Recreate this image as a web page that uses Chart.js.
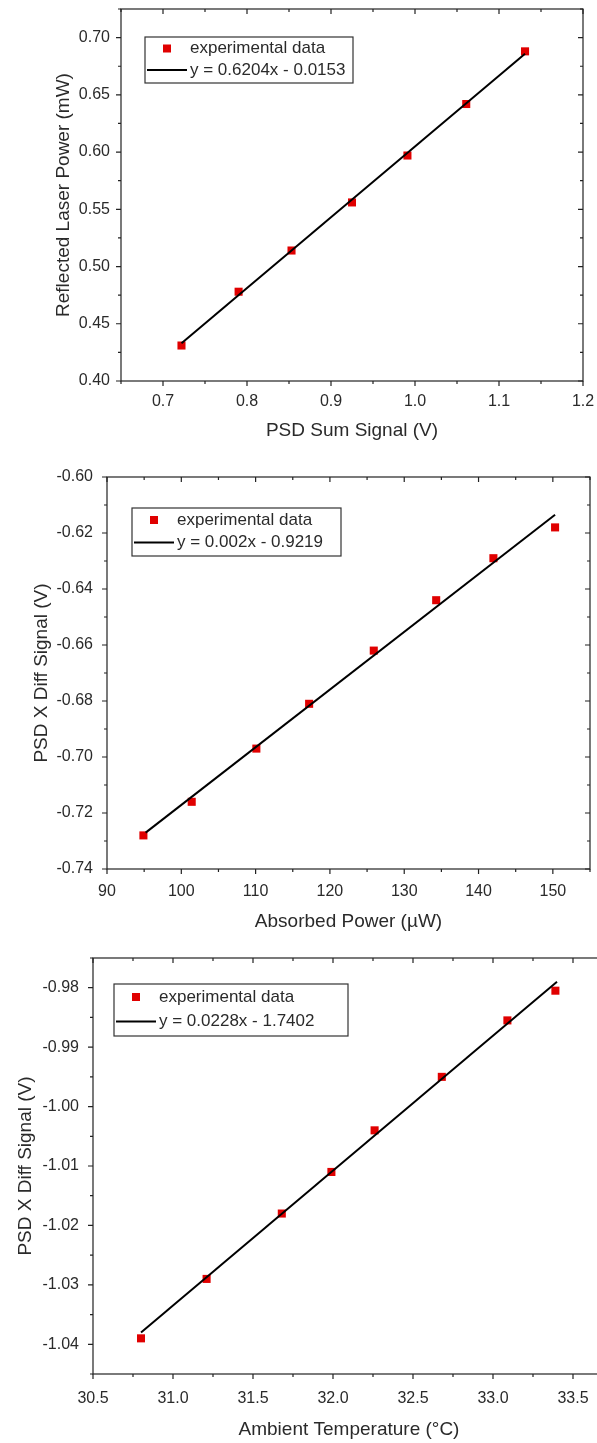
<!DOCTYPE html>
<html>

<head>
    <meta charset="utf-8">
    <title>PSD calibration</title>
    <script type="text/javascript" src="https://cdn.jsdelivr.net/npm/chart.js@4.4.1/dist/chart.umd.min.js"></script>
    <style>
        body { margin: 0; background: #fff; }
        .wrap { position: relative; width: 597px; overflow: hidden; }
        canvas { display: block; }
    </style>
</head>

<body>
    <div class="wrap" style="height:465px"><canvas id="c1" width="597" height="465"></canvas></div>
    <div class="wrap" style="height:480px"><canvas id="c2" width="597" height="480"></canvas></div>
    <div class="wrap" style="height:498px"><canvas id="c3" width="620" height="498"></canvas></div>
    <script>
        // chart 1: reflected power vs PSD sum
        const sumSignal = [0.722, 0.790, 0.853, 0.925, 0.991, 1.061, 1.131]
        const reflectedPower = [0.431, 0.478, 0.514, 0.556, 0.597, 0.642, 0.688]
        const fit1X = [0.722, 1.131]
        const fit1Y = [0.433, 0.686]
        const xTicks1 = [0.7, 0.8, 0.9, 1.0, 1.1, 1.2]
        const yTicks1 = [0.40, 0.45, 0.50, 0.55, 0.60, 0.65, 0.70]

        // chart 2: x diff vs absorbed power
        const absorbedPower = [94.9, 101.4, 110.1, 117.2, 125.9, 134.3, 142.0, 150.3]
        const diffVsPower = [-0.728, -0.716, -0.697, -0.681, -0.662, -0.644, -0.629, -0.618]
        const fit2X = [95.2, 150.3]
        const fit2Y = [-0.727, -0.6135]
        const xTicks2 = [90, 100, 110, 120, 130, 140, 150]
        const yTicks2 = [-0.74, -0.72, -0.70, -0.68, -0.66, -0.64, -0.62, -0.60]

        // chart 3: x diff vs ambient temperature
        const ambientTemp = [30.80, 31.21, 31.68, 31.99, 32.26, 32.68, 33.09, 33.39]
        const diffVsTemp = [-1.039, -1.029, -1.018, -1.011, -1.004, -0.995, -0.9855, -0.9805]
        const fit3X = [30.8, 33.4]
        const fit3Y = [-1.038, -0.979]
        const xTicks3 = [30.5, 31.0, 31.5, 32.0, 32.5, 33.0, 33.5]
        const yTicks3 = [-1.04, -1.03, -1.02, -1.01, -1.00, -0.99, -0.98]

        const labels = ['experimental data', 'y = 0.6204x - 0.0153', 'y = 0.002x - 0.9219', 'y = 0.0228x - 1.7402']

        Chart.defaults.font.family = "'Liberation Sans', Arial, sans-serif"
        Chart.defaults.color = '#2a2a2a'

        const red = '#e00000'
        const ink = '#222'

        const pts = (xs, ys) => xs.map((x, i) => ({ x: x, y: ys[i] }))

        // box + origin style ticks (out on bottom/left, in on top/right)
        const frame = {
            id: 'frame',
            afterDraw(chart) {
                const { ctx, chartArea: a, scales } = chart
                ctx.save()
                ctx.strokeStyle = ink
                ctx.lineWidth = 1.2
                ctx.strokeRect(a.left, a.top, a.right - a.left, a.bottom - a.top)
                const marks = (scale) => {
                    const vals = scale.ticks.map((t) => t.value)
                    const step = vals[1] - vals[0]
                    const minor = []
                    for (let i = -1; i < vals.length; i++) {
                        const v = (i < 0 ? vals[0] - step : vals[i]) + step / 2
                        if (v >= scale.min - 1e-9 && v <= scale.max + 1e-9) minor.push(v)
                    }
                    return [vals.map((v) => [scale.getPixelForValue(v), 5]), minor.map((v) => [scale.getPixelForValue(v), 3])].flat()
                }
                ctx.beginPath()
                marks(scales.x).forEach(([p, l]) => {
                    ctx.moveTo(p, a.bottom); ctx.lineTo(p, a.bottom + l)
                    ctx.moveTo(p, a.top); ctx.lineTo(p, a.top + l)
                })
                marks(scales.y).forEach(([p, l]) => {
                    ctx.moveTo(a.left, p); ctx.lineTo(a.left - l, p)
                    ctx.moveTo(a.right, p); ctx.lineTo(a.right - l, p)
                })
                ctx.stroke()

                // legend box
                const o = chart.options.plugins.boxLegend
                const ds = chart.data.datasets
                ctx.lineWidth = 1.2
                ctx.strokeStyle = '#333'
                ctx.strokeRect(o.x, o.y, o.w, o.h)
                const r1 = o.y + o.h * 0.25
                const r2 = o.y + o.h * 0.72
                ctx.fillStyle = red
                ctx.fillRect(o.x + 18, r1 - 4, 8, 8)
                ctx.strokeStyle = '#000'
                ctx.lineWidth = 2
                ctx.beginPath()
                ctx.moveTo(o.x + 2, r2); ctx.lineTo(o.x + 42, r2)
                ctx.stroke()
                ctx.fillStyle = '#2a2a2a'
                ctx.font = "17px 'Liberation Sans', Arial, sans-serif"
                ctx.textBaseline = 'middle'
                ctx.fillText(ds[0].label, o.x + 45, r1)
                ctx.fillText(ds[1].label, o.x + 45, r2)
                ctx.restore()
            }
        }

        const makeChart = (id, cfg) => {
            const fitW = (w) => (s) => { s.width = w; s.paddingTop = 0; s.paddingBottom = 0 }
            const fitH = (h) => (s) => { s.height = h; s.paddingLeft = 0; s.paddingRight = 0 }
            const useTicks = (arr) => (s) => { s.ticks = arr.map((v) => ({ value: v })) }
            return new Chart(document.getElementById(id), {
                type: 'scatter',
                data: {
                    datasets: [
                        {
                            label: labels[0], data: pts(cfg.xs, cfg.ys),
                            pointStyle: 'rect', pointRadius: 5.7, backgroundColor: red, borderColor: red, borderWidth: 0, order: 2
                        },
                        {
                            label: cfg.fitLabel, data: pts(cfg.fx, cfg.fy), type: 'line',
                            borderColor: '#000', borderWidth: 2, pointRadius: 0, fill: false, order: 1
                        }
                    ]
                },
                options: {
                    responsive: false,
                    animation: false,
                    layout: { padding: { top: cfg.padTop, right: cfg.padRight, left: 0, bottom: 0 } },
                    plugins: {
                        legend: { display: false },
                        tooltip: { enabled: false },
                        boxLegend: cfg.legendBox
                    },
                    scales: {
                        x: {
                            type: 'linear', min: cfg.xMin, max: cfg.xMax,
                            afterBuildTicks: useTicks(cfg.xTicks),
                            afterFit: fitH(cfg.xH),
                            grid: { display: false, drawTicks: false }, border: { display: false },
                            ticks: {
                                padding: cfg.xTickPad, maxRotation: 0, autoSkip: false,
                                font: { size: 16 }, callback: (v) => v.toFixed(cfg.xDec)
                            },
                            title: { display: true, text: cfg.xTitle, font: { size: 19 }, padding: { top: 0, bottom: cfg.xTitlePad } }
                        },
                        y: {
                            type: 'linear', min: cfg.yMin, max: cfg.yMax,
                            afterBuildTicks: useTicks(cfg.yTicks),
                            afterFit: fitW(cfg.yW),
                            grid: { display: false, drawTicks: false }, border: { display: false },
                            ticks: {
                                padding: cfg.yTickPad, autoSkip: false,
                                font: { size: 16 }, callback: (v) => v.toFixed(2)
                            },
                            title: { display: true, text: cfg.yTitle, font: { size: 19 }, padding: { top: cfg.yTitlePad, bottom: 0 } }
                        }
                    }
                },
                plugins: [frame]
            })
        }

        makeChart('c1', {
            xs: sumSignal, ys: reflectedPower, fx: fit1X, fy: fit1Y, fitLabel: labels[1],
            xMin: 0.65, xMax: 1.2, xTicks: xTicks1, xDec: 1, yMin: 0.40, yMax: 0.725, yTicks: yTicks1,
            xTitle: 'PSD Sum Signal (V)', yTitle: 'Reflected Laser Power (mW)',
            padTop: 9, padRight: 14, yW: 121, xH: 84, xTitlePad: 23, yTitlePad: 52, xTickPad: 11, yTickPad: 11,
            legendBox: { x: 145, y: 37, w: 208, h: 46 }
        })

        makeChart('c2', {
            xs: absorbedPower, ys: diffVsPower, fx: fit2X, fy: fit2Y, fitLabel: labels[2],
            xMin: 90, xMax: 155, xTicks: xTicks2, xDec: 0, yMin: -0.74, yMax: -0.60, yTicks: yTicks2,
            xTitle: 'Absorbed Power (\u00b5W)', yTitle: 'PSD X Diff Signal (V)',
            padTop: 12, padRight: 7, yW: 107, xH: 76, xTitlePad: 12, yTitlePad: 30, xTickPad: 13, yTickPad: 14,
            legendBox: { x: 132, y: 43, w: 209, h: 48 }
        })

        makeChart('c3', {
            xs: ambientTemp, ys: diffVsTemp, fx: fit3X, fy: fit3Y, fitLabel: labels[3],
            xMin: 30.5, xMax: 33.7, xTicks: xTicks3, xDec: 1, yMin: -1.045, yMax: -0.975, yTicks: yTicks3,
            xTitle: 'Ambient Temperature (\u00b0C)', yTitle: 'PSD X Diff Signal (V)',
            padTop: 13, padRight: 15, yW: 93, xH: 69, xTitlePad: 2, yTitlePad: 14, xTickPad: 15, yTickPad: 14,
            legendBox: { x: 114, y: 39, w: 234, h: 52 }
        })
    </script>
</body>

</html>
